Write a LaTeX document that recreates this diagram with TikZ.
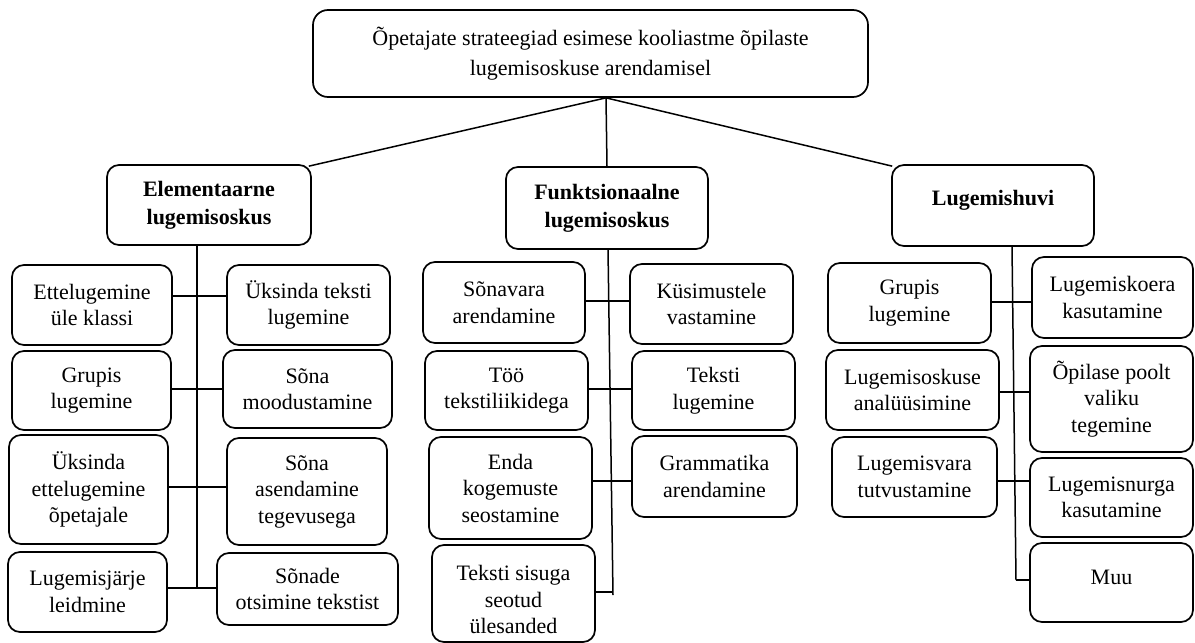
\documentclass[tikz,border=0pt]{standalone}
\usepackage{fontspec}
\setmainfont{Liberation Serif}
\usetikzlibrary{calc}
\begin{document}
\begin{tikzpicture}[x=1pt,y=-1pt,
  box/.style={draw, line width=1.7pt, rounded corners=12pt, inner sep=0pt, align=center,
    font=\fontsize{22}{26.5}\selectfont},
  head/.style={box, font=\fontsize{22}{28}\selectfont\bfseries},
  conn/.style={line width=1.5pt}]
\useasboundingbox (0,0) rectangle (1195,643);
% top
\node[box, rounded corners=15pt, minimum width=555pt, minimum height=87pt,
  font=\fontsize{22}{30}\selectfont] (top) at (590.5,53.5)
  {Õpetajate strateegiad esimese kooliastme õpilaste\\lugemisoskuse arendamisel};
% headers
\node[head, minimum width=204pt, minimum height=80pt] (el) at (209,205) {Elementaarne\\lugemisoskus};
\node[head, minimum width=202pt, minimum height=82pt] (fu) at (607,208) {Funktsionaalne\\lugemisoskus};
\node[head, minimum width=202pt, minimum height=81pt,
  label={[name=lht, yshift=5.5pt, font=\fontsize{22}{28}\selectfont\bfseries]center:Lugemishuvi}] (lh) at (993,205.5) {};
% left column
\node[box, minimum width=160pt, minimum height=80pt] (L1) at (92,305) {Ettelugemine\\üle klassi};
\node[box, minimum width=163pt, minimum height=80pt] (R1) at (308.5,305) {Üksinda teksti\\lugemine};
\node[box, minimum width=159pt, minimum height=79pt] (L2) at (91.5,390.5) {Grupis\\lugemine};
\node[box, minimum width=169pt, minimum height=78pt] (R2) at (307.5,389) {Sõna\\moodustamine};
\node[box, minimum width=159pt, minimum height=109pt] (L3) at (88.5,489.5) {Üksinda\\ettelugemine\\õpetajale};
\node[box, minimum width=160pt, minimum height=107pt] (R3) at (307,491.5) {Sõna\\asendamine\\tegevusega};
\node[box, minimum width=159pt, minimum height=80pt] (L4) at (87.5,592) {Lugemisjärje\\leidmine};
\node[box, minimum width=181pt, minimum height=72pt] (R4) at (307.5,589) {Sõnade\\otsimine tekstist};
% middle column
\node[box, minimum width=162pt, minimum height=81pt] (M1) at (504,302.5) {Sõnavara\\arendamine};
\node[box, minimum width=163pt, minimum height=80pt] (N1) at (711.5,304) {Küsimustele\\vastamine};
\node[box, minimum width=163pt, minimum height=79pt] (M2) at (506.5,390.5) {Töö\\tekstiliikidega};
\node[box, minimum width=163pt, minimum height=79pt] (N2) at (713.5,390.5) {Teksti\\lugemine};
\node[box, minimum width=163pt, minimum height=102pt] (M3) at (510.5,488) {Enda\\kogemuste\\seostamine};
\node[box, minimum width=165pt, minimum height=81pt] (N3) at (714.5,476.5) {Grammatika\\arendamine};
\node[box, minimum width=163pt, minimum height=97pt,
  label={[name=M4t, yshift=-6pt, align=center, font=\fontsize{22}{26.5}\selectfont]center:Teksti sisuga\\seotud\\ülesanded}] (M4) at (513.5,593.5) {};
% right column
\node[box, minimum width=163pt, minimum height=80pt] (P1) at (909.5,303) {Grupis\\lugemine};
\node[box, minimum width=161pt, minimum height=81pt] (Q1) at (1112.5,297.5) {Lugemiskoera\\kasutamine};
\node[box, minimum width=173pt, minimum height=80pt] (P2) at (912.5,390) {Lugemisoskuse\\analüüsimine};
\node[box, minimum width=163pt, minimum height=106pt] (Q2) at (1111.5,399) {Õpilase poolt\\valiku\\tegemine};
\node[box, minimum width=165pt, minimum height=80pt] (P3) at (914.5,477) {Lugemisvara\\tutvustamine};
\node[box, minimum width=163pt, minimum height=79pt] (Q3) at (1111.5,497.5) {Lugemisnurga\\kasutamine};
\node[box, minimum width=163pt, minimum height=79pt,
  label={[name=Q4t, yshift=5pt, font=\fontsize{22}{26.5}\selectfont]center:Muu}] (Q4) at (1111.5,582.5) {};
% top connectors
\coordinate (j) at (606,97);
\draw[conn] (top.south -| j) -- ($(el.north east)+(-3,2)$);
\draw[conn] (top.south -| j) -- (fu.north);
\draw[conn] (top.south -| j) -- ($(lh.north west)+(1,2)$);
% left spine
\coordinate (lend) at (197,588);
\draw[conn] (el.south -| lend) -- (lend);
\draw[conn] (L1.east |- 0,296) -- (R1.west |- 0,296);
\draw[conn] (L2.east |- 0,389) -- (R2.west |- 0,389);
\draw[conn] (L3.east |- 0,487) -- (R3.west |- 0,487);
\draw[conn] (L4.east |- 0,588) -- (R4.west |- 0,588);
% middle spine
\coordinate (mtop) at (608,249);
\coordinate (mend) at (613,595);
\draw[conn] (mtop) -- (mend);
\draw[conn] (M1.east |- 0,301) -- (N1.west |- 0,301);
\draw[conn] (M2.east |- 0,389) -- (N2.west |- 0,389);
\draw[conn] (M3.east |- 0,481) -- (N3.west |- 0,481);
\draw[conn] (M4.east |- 0,592) -- (mend |- 0,592);
% right spine
\coordinate (rtop) at (1012,246);
\coordinate (rend) at (1016,580);
\draw[conn] (rtop) -- (rend);
\draw[conn] (P1.east |- 0,302) -- (Q1.west |- 0,302);
\draw[conn] (P2.east |- 0,392) -- (Q2.west |- 0,392);
\draw[conn] (P3.east |- 0,481) -- (Q3.west |- 0,481);
\draw[conn] (rend) -- (Q4.west |- rend);
\end{tikzpicture}
\end{document}
